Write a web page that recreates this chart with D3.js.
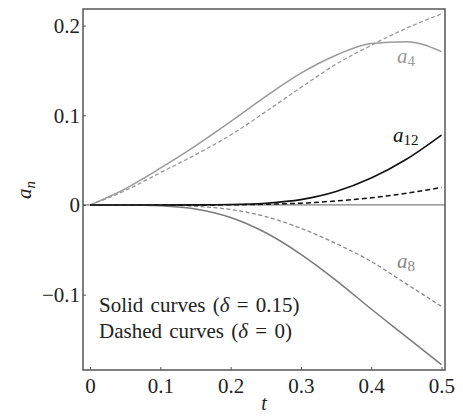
<!DOCTYPE html>
<html>
<head>
<meta charset="utf-8">
<script src="https://cdn.jsdelivr.net/npm/d3@7"></script>
<style>
  body { margin: 0; background: #fff; }
  svg text { font-family: "Liberation Serif", "Times New Roman", Times, "DejaVu Serif", "Noto Serif", serif; }
</style>
</head>
<body>
<svg></svg>
<script>
// time samples
const tValues = [0, 0.05, 0.1, 0.15, 0.2, 0.25, 0.3, 0.35, 0.4, 0.45, 0.5];

// solid curves (delta = 0.15)
const a4Solid  = [0, 0.018, 0.041, 0.066, 0.093, 0.121, 0.147, 0.167, 0.180, 0.182, 0.171];
const a8Solid  = [0, 0, -0.001, -0.0045, -0.014, -0.031, -0.055, -0.084, -0.116, -0.147, -0.178];
const a12Solid = [0, 0, 0, 0.0001, 0.0005, 0.002, 0.006, 0.015, 0.030, 0.051, 0.078];

// dashed curves (delta = 0)
const a4Dashed  = [0, 0.016, 0.036, 0.056, 0.078, 0.104, 0.131, 0.157, 0.178, 0.197, 0.213];
const a8Dashed  = [0, 0, 0, -0.0015, -0.005, -0.013, -0.026, -0.043, -0.063, -0.088, -0.113];
const a12Dashed = [0, 0, 0, 0, 0.0002, 0.0008, 0.002, 0.0045, 0.008, 0.013, 0.0195];

const xTicks = [0, 0.1, 0.2, 0.3, 0.4, 0.5];
const yTicks = [-0.1, 0, 0.1, 0.2];

const width = 463, height = 416;
const plotLeft = 83, plotTop = 9, plotRight = 445, plotBottom = 370;
const serif = '"Liberation Serif", "Times New Roman", Times, "DejaVu Serif", serif';

const svg = d3.select('svg')
    .attr('width', width)
    .attr('height', height);

const x = d3.scaleLinear().domain([-0.01, 0.505]).range([plotLeft, plotRight]);
const y = d3.scaleLinear().domain([-0.184, 0.2185]).range([plotBottom, plotTop]);

const fmt = d => d === 0 ? '0' : (d < 0 ? '\u2212' + Math.abs(d) : String(d));

// zero line
svg.append('line')
    .attr('x1', plotLeft).attr('x2', plotRight)
    .attr('y1', y(0)).attr('y2', y(0))
    .attr('stroke', '#808080')
    .attr('stroke-width', 1.2);

const line = d3.line()
    .x((d, i) => x(tValues[i]))
    .y(d => y(d))
    .curve(d3.curveMonotoneX);

const curves = [
    {data: a4Dashed,  color: '#9a9a9a', dash: '4,2.5', w: 1.3},
    {data: a8Dashed,  color: '#8a8a8a', dash: '4,2.5', w: 1.3},
    {data: a12Dashed, color: '#111',    dash: '5,3',   w: 1.5},
    {data: a4Solid,   color: '#9a9a9a', dash: null,    w: 1.5},
    {data: a8Solid,   color: '#7a7a7a', dash: null,    w: 1.5},
    {data: a12Solid,  color: '#111',    dash: null,    w: 1.6}
];

svg.selectAll('path.curve')
    .data(curves)
    .enter().append('path')
    .attr('class', 'curve')
    .attr('d', d => line(d.data))
    .attr('fill', 'none')
    .attr('stroke', d => d.color)
    .attr('stroke-width', d => d.w)
    .attr('stroke-dasharray', d => d.dash);

// frame
svg.append('rect')
    .attr('x', plotLeft).attr('y', plotTop)
    .attr('width', plotRight - plotLeft).attr('height', plotBottom - plotTop)
    .attr('fill', 'none')
    .attr('stroke', '#555')
    .attr('stroke-width', 1.5);

// axes with inward ticks
const xAxis = svg.append('g')
    .attr('transform', `translate(0,${plotBottom})`)
    .call(d3.axisBottom(x).tickValues(xTicks).tickSizeInner(-3).tickSizeOuter(0).tickFormat(fmt));
const yAxis = svg.append('g')
    .attr('transform', `translate(${plotLeft},0)`)
    .call(d3.axisLeft(y).tickValues(yTicks).tickSizeInner(-3).tickSizeOuter(0).tickFormat(fmt));

[xAxis, yAxis].forEach(g => {
    g.attr('font-family', serif).attr('font-size', 21);
    g.select('.domain').remove();
    g.selectAll('.tick line').attr('stroke', '#555').attr('stroke-width', 1);
    g.selectAll('.tick text').attr('fill', '#222');
});
xAxis.selectAll('.tick text').attr('y', 8).attr('dy', '0.71em');
yAxis.selectAll('.tick text').attr('x', -3).attr('dy', '0.33em');

// axis labels
const aLabel = svg.append('text')
    .attr('transform', `translate(31,190) rotate(-90)`)
    .attr('text-anchor', 'middle')
    .attr('font-family', serif)
    .attr('font-size', 21)
    .attr('fill', '#222');
aLabel.append('tspan').attr('font-style', 'italic').text('a');
aLabel.append('tspan').attr('font-style', 'italic').attr('font-size', 15).attr('dy', 4).text('n');

svg.append('text')
    .attr('x', (plotLeft + plotRight) / 2)
    .attr('y', 410)
    .attr('text-anchor', 'middle')
    .attr('font-family', serif)
    .attr('font-size', 20)
    .attr('font-style', 'italic')
    .attr('fill', '#222')
    .text('t');

// curve labels
const curveLabels = [
    {sub: '4',  tx: 397, ty: 63,  color: '#999'},
    {sub: '12', tx: 393, ty: 142, color: '#111'},
    {sub: '8',  tx: 397, ty: 268, color: '#888'}
];
curveLabels.forEach(d => {
    const t = svg.append('text')
        .attr('x', d.tx).attr('y', d.ty)
        .attr('font-family', serif)
        .attr('font-size', 21)
        .attr('fill', d.color);
    t.append('tspan').attr('font-style', 'italic').text('a');
    t.append('tspan').attr('font-size', 15).attr('dy', 3).text(d.sub);
});

// legend text
const legendLines = [
    {pre: 'Solid curves (', post: ' = 0.15)', ty: 312},
    {pre: 'Dashed curves (', post: ' = 0)', ty: 338}
];
legendLines.forEach(d => {
    const t = svg.append('text')
        .attr('x', 99).attr('y', d.ty)
        .attr('font-family', serif)
        .attr('font-size', 21)
        .attr('fill', '#222')
        .attr('word-spacing', 2);
    t.append('tspan').text(d.pre);
    t.append('tspan').attr('font-style', 'italic').text('\u03b4');
    t.append('tspan').text(d.post);
});
</script>
</body>
</html>
